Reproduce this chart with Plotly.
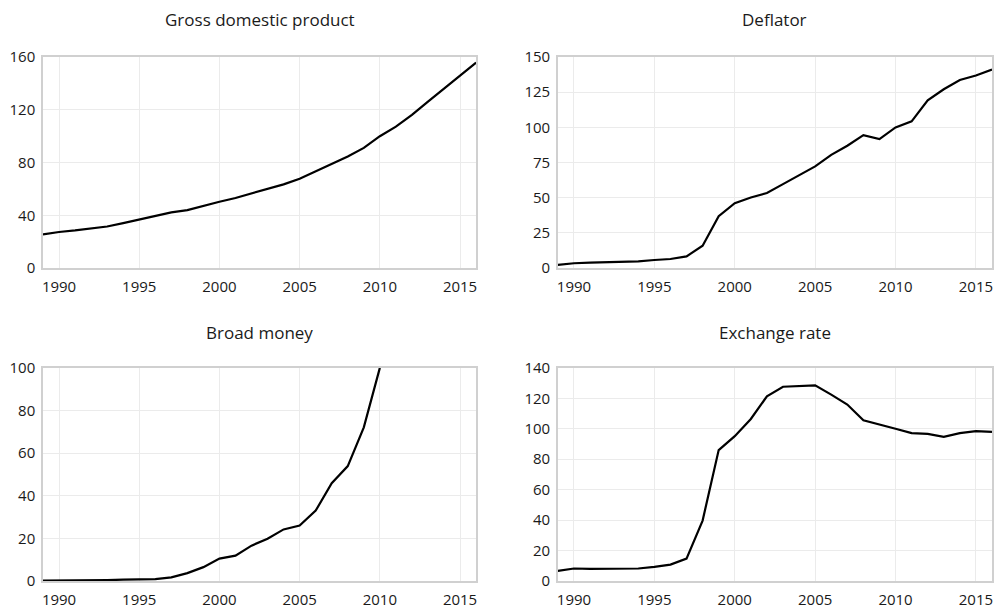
import plotly.graph_objects as go

# Annual indices, 2010 = 100
years = list(range(1989, 2017))

gdp = [25.6, 27.4, 28.6, 29.9, 31.6, 34.1, 36.8, 39.6, 42.3, 44.0,
       47.3, 50.3, 53.2, 56.5, 60.0, 63.5, 67.7, 73.4, 78.6, 84.6,
       91.1, 100.0, 107.2, 116.2, 126.2, 136.1, 145.6, 155.8]

deflator = [2.3, 3.5, 4.0, 4.2, 4.7, 4.9, 5.8, 6.5, 8.4, 15.9,
            36.9, 46.2, 50.2, 53.4, 59.7, 66.0, 72.3, 80.5, 87.0, 94.5,
            91.7, 100.0, 104.3, 119.2, 127.1, 133.7, 136.9, 141.1]

money_years = list(range(1989, 2011))
broad_money = [0.2, 0.2, 0.2, 0.3, 0.4, 0.6, 0.7, 0.9, 1.7, 3.7,
               6.5, 10.5, 11.9, 16.6, 19.8, 24.2, 26.0, 33.0, 45.9, 53.9,
               72.1, 100.0]

exchange_rate = [6.7, 8.2, 8.0, 8.2, 8.2, 8.2, 9.3, 10.8, 14.7, 39.7,
                 86.0, 95.1, 106.4, 121.3, 127.6, 127.8, 128.5, 122.4, 115.9, 105.5,
                 102.9, 100.0, 97.1, 96.6, 94.7, 97.1, 98.4, 97.9]

year_ticks = [1990, 1995, 2000, 2005, 2010, 2015]

panels = [
    # title, x, y, y max, y step
    ("Gross domestic product", years, gdp, 160, 40),
    ("Deflator", years, deflator, 150, 25),
    ("Broad money", money_years, broad_money, 100, 20),
    ("Exchange rate", years, exchange_rate, 140, 20),
]

W, H = 996, 611
ML, MR, MT, MB = 43, 2, 57, 23
pw = W - ML - MR
ph = H - MT - MB

def xdom(left, right):
    return [(left - ML) / pw, (right - ML) / pw]

def ydom(top, bottom):
    return [(H - MB - bottom) / ph, (H - MB - top) / ph]

x_domains = [xdom(43, 477), xdom(559, 994), xdom(43, 477), xdom(559, 994)]
y_domains = [ydom(57, 271), ydom(57, 271), ydom(372, 588), ydom(372, 588)]
title_px_y = [19, 19, 336, 336]

font_family = "Open Sans, Lato, sans-serif"
text_col = "#1a1a1a"
grid_col = "#ebebeb"
line_col = "#d0d0d0"

fig = go.Figure()
layout = dict(
    width=W, height=H,
    margin=dict(l=ML, r=MR, t=MT, b=MB),
    paper_bgcolor="white", plot_bgcolor="white",
    showlegend=False,
    font=dict(family=font_family, size=15, color=text_col),
    annotations=[],
)

for i, (title, xs, ys, ymax, ystep) in enumerate(panels):
    n = "" if i == 0 else str(i + 1)
    fig.add_trace(go.Scatter(
        x=xs, y=ys, mode="lines",
        line=dict(color="black", width=2.2),
        xaxis="x" + n, yaxis="y" + n,
        hoverinfo="x+y",
    ))
    layout["xaxis" + n] = dict(
        domain=x_domains[i], anchor="y" + n,
        range=[1989, 2016], tickvals=year_ticks,
        showgrid=True, gridcolor=grid_col, gridwidth=1,
        showline=True, linecolor=line_col, linewidth=1.5, mirror=True,
        ticks="outside", ticklen=4, tickcolor="rgba(0,0,0,0)",
        zeroline=False, tickfont=dict(size=15),
    )
    layout["yaxis" + n] = dict(
        domain=y_domains[i], anchor="x" + n,
        range=[0, ymax], dtick=ystep, tick0=0,
        showgrid=True, gridcolor=grid_col, gridwidth=1,
        showline=True, linecolor=line_col, linewidth=1.5, mirror=True,
        ticks="outside", ticklen=3, tickcolor="rgba(0,0,0,0)",
        zeroline=False, tickfont=dict(size=15),
    )
    cx = (x_domains[i][0] + x_domains[i][1]) / 2
    layout["annotations"].append(dict(
        text=title, xref="paper", yref="paper",
        x=cx, y=(H - MB - title_px_y[i]) / ph,
        xanchor="center", yanchor="middle", showarrow=False,
        font=dict(size=17, color=text_col),
    ))

fig.update_layout(**layout)
fig.write_html("out.html")
